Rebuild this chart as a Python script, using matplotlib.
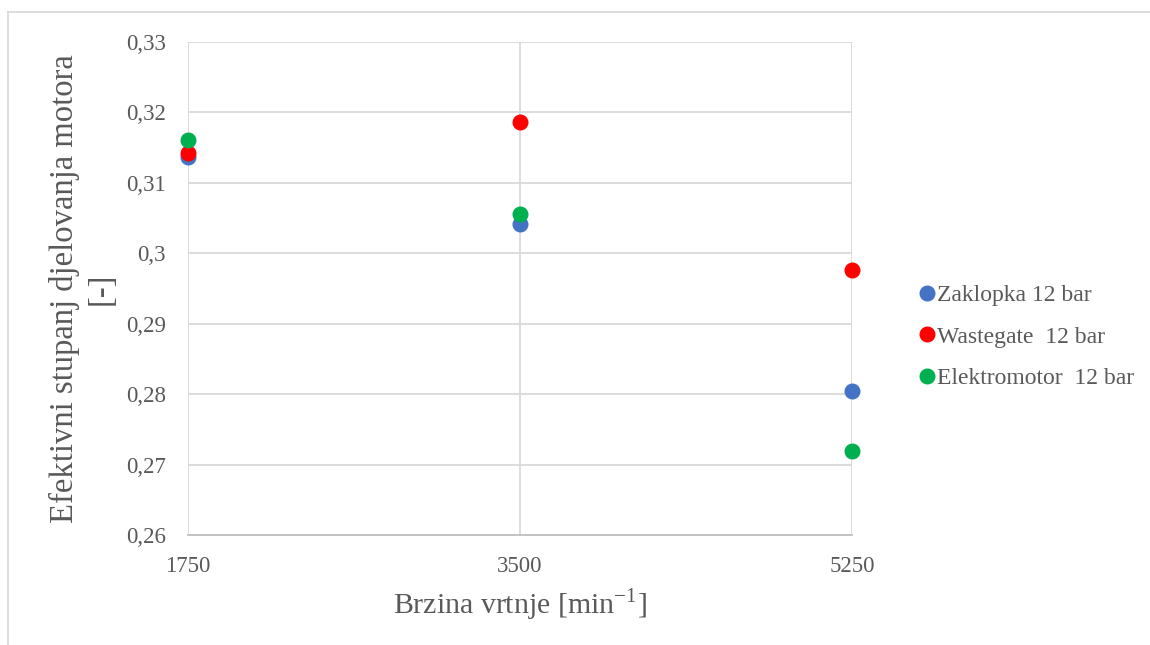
import matplotlib.pyplot as plt
from matplotlib.lines import Line2D
from matplotlib.ticker import FuncFormatter

# brzina vrtnje [min^-1]
speeds = [1750, 3500, 5250]

# efektivni stupanj djelovanja [-]
zaklopka = [0.3137, 0.3041, 0.2804]
wastegate = [0.3142, 0.3186, 0.2976]
elektromotor = [0.3161, 0.3056, 0.2720]

series_names = ["Zaklopka 12 bar", "Wastegate  12 bar", "Elektromotor  12 bar"]
series_colors = ["#4472C4", "#FF0000", "#00B050"]

y_ticks = [0.26, 0.27, 0.28, 0.29, 0.30, 0.31, 0.32, 0.33]

plt.rcParams["font.family"] = ["Liberation Serif", "DejaVu Serif"]
plt.rcParams["mathtext.fontset"] = "custom"
plt.rcParams["mathtext.rm"] = "Liberation Serif"

fig = plt.figure(figsize=(11.5, 6.45), dpi=100)
ax = fig.add_axes([0.1635, 0.1705, 0.5774, 0.7644])

for values, name, color in zip(
    [zaklopka, wastegate, elektromotor],
    series_names,
    series_colors
):
    ax.plot(
        speeds,
        values,
        linestyle="none",
        marker="o",
        markersize=10.5,
        color=color,
        label=name,
        clip_on=False,
        zorder=3
    )

ax.set_xlim(1750, 5250)
ax.set_ylim(0.26, 0.33)
ax.set_xticks(speeds)
ax.set_yticks(y_ticks)


def comma_fmt(v, pos):
    txt = ("%.2f" % v).rstrip("0")
    return txt.replace(".", ",")


ax.yaxis.set_major_formatter(FuncFormatter(comma_fmt))

ax.grid(True, color="#D9D9D9", linewidth=1.3)
ax.set_axisbelow(True)

for side in ["left", "right", "top"]:
    ax.spines[side].set_visible(False)
ax.spines["bottom"].set_color("#BFBFBF")
ax.spines["bottom"].set_linewidth(1.3)

ax.tick_params(
    axis="both",
    length=0,
    labelsize=16.5,
    labelcolor="#595959"
)
ax.tick_params(axis="y", pad=16)
ax.tick_params(axis="x", pad=15)

ax.set_xlabel(
    "Brzina vrtnje [min$^{\\mathrm{-1}}$]",
    fontsize=21.5,
    color="#595959",
    labelpad=7
)
ax.set_ylabel(
    "Efektivni stupanj djelovanja motora\n[-]",
    fontsize=23.5,
    color="#595959",
    labelpad=6.5,
    linespacing=1.25
)

ax.legend(
    loc="center left",
    bbox_to_anchor=(1.099, 0.402),
    frameon=False,
    fontsize=17,
    labelcolor="#595959",
    handletextpad=0.0,
    handlelength=0.8,
    labelspacing=0.85,
    borderpad=0,
    borderaxespad=0
)

# okvir grafikona
fig.add_artist(Line2D([8 / 1150, 8 / 1150], [0, 1 - 12 / 645],
                      transform=fig.transFigure, color="#D9D9D9", linewidth=1.3))
fig.add_artist(Line2D([8 / 1150, 1], [1 - 12 / 645, 1 - 12 / 645],
                      transform=fig.transFigure, color="#D9D9D9", linewidth=1.3))

fig.savefig("out.png", dpi=100)
